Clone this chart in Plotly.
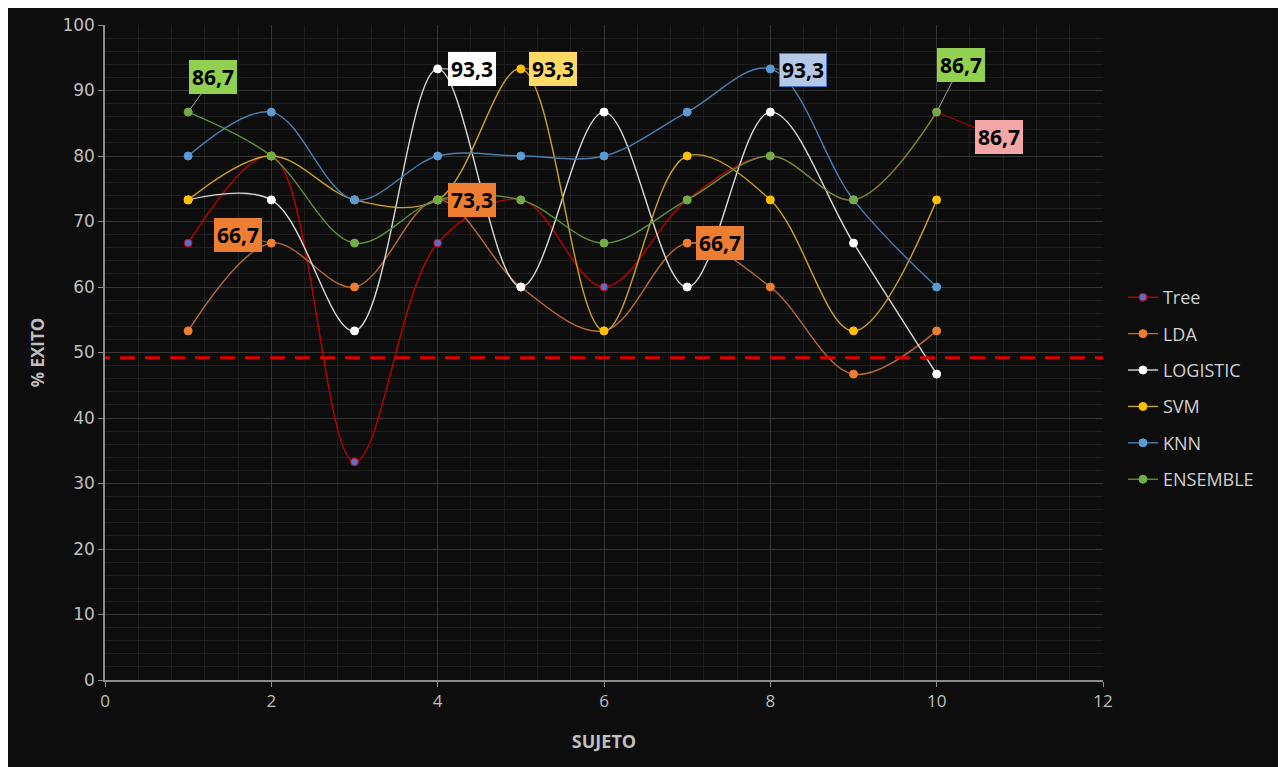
import plotly.graph_objects as go

sujetos = [1, 2, 3, 4, 5, 6, 7, 8, 9, 10]
tree = [66.7, 80.0, 33.3, 66.7, 73.3, 60.0, 73.3, 80.0, 73.3, 86.7]
lda = [53.3, 66.7, 60.0, 73.3, 60.0, 53.3, 66.7, 60.0, 46.7, 53.3]
logistic = [73.3, 73.3, 53.3, 93.3, 60.0, 86.7, 60.0, 86.7, 66.7, 46.7]
svm = [73.3, 80.0, 73.3, 73.3, 93.3, 53.3, 80.0, 73.3, 53.3, 73.3]
knn = [80.0, 86.7, 73.3, 80.0, 80.0, 80.0, 86.7, 93.3, 73.3, 60.0]
ensemble = [86.7, 80.0, 66.7, 73.3, 73.3, 66.7, 73.3, 80.0, 73.3, 86.7]
umbral = 49.2

series = [
    ("Tree", tree, "#c00000", "#5b6fc7"),
    ("LDA", lda, "#b8693a", "#ed7d31"),
    ("LOGISTIC", logistic, "#d9d9d9", "#ffffff"),
    ("SVM", svm, "#c9a227", "#ffc000"),
    ("KNN", knn, "#4a7eb0", "#5b9bd5"),
    ("ENSEMBLE", ensemble, "#5f8f3a", "#70ad47"),
]

BG = "#0d0d0d"
fig = go.Figure()
for i, (name, vals, lc, mc) in enumerate(series):
    fig.add_trace(go.Scatter(
        x=sujetos, y=vals, name=name, mode="lines+markers",
        line=dict(color=lc, width=1.4, shape="spline", smoothing=1.0),
        marker=dict(color=mc, size=8, line=dict(color=lc if name == "Tree" else mc, width=1)),
        legendgroup=name,
    ))

# labels: (x, y, text, bg, ax, ay, arrowcolor, border)
labels = [
    (1, ensemble[0], "86,7", "#92d050", 25, -35, "#a0a0a0", "#92d050"),
    (2, lda[1], "66,7", "#ed7d31", -33, -8, "#b8693a", "#ed7d31"),
    (4, logistic[3], "93,3", "#ffffff", 34, 0, "#d9d9d9", "#ffffff"),
    (4, lda[3], "73,3", "#ed7d31", 34, 0, "#b8693a", "#ed7d31"),
    (5, svm[4], "93,3", "#ffd966", 32, 0, "#c9a227", "#ffd966"),
    (7, lda[6], "66,7", "#ed7d31", 33, 0, "#b8693a", "#ed7d31"),
    (8, knn[7], "93,3", "#b4c7e7", 33, 1, "#4a7eb0", "#4472c4"),
    (10, ensemble[9], "86,7", "#92d050", 24, -47, "#a0a0a0", "#92d050"),
    (10, tree[9], "86,7", "#f4a6a6", 62, 25, "#c00000", "#f4a6a6"),
]
for (x, y, t, bg, ax, ay, ac, bc) in labels:
    fig.add_annotation(
        x=x, y=y, text="<b>" + t + "</b>", showarrow=True, ax=ax, ay=ay,
        arrowhead=0, arrowwidth=1, arrowcolor=ac, standoff=4,
        bgcolor=bg, bordercolor=bc, borderwidth=1, borderpad=2,
        font=dict(family="Open Sans", size=21, color="#000000"),
    )

# threshold dashed line
fig.add_shape(type="line", xref="x", yref="y", x0=-0.12, x1=12, y0=umbral, y1=umbral,
              line=dict(color="#e00000", width=3, dash="15px,10px"), layer="above")

grid_c = "#363636"
minor_c = "#1e1e1e"
fig.update_layout(
    width=1286, height=767,
    margin=dict(l=97, r=191, t=17, b=95),
    paper_bgcolor=BG, plot_bgcolor=BG,
    showlegend=True,
    legend=dict(x=1.02, y=0.445, xanchor="left", yanchor="middle",
                font=dict(family="Open Sans", size=18, color="#d0d0d0"),
                bgcolor="rgba(0,0,0,0)", tracegroupgap=10, itemwidth=30),
    xaxis=dict(range=[0, 12], tick0=0, dtick=2, showgrid=True, gridcolor=grid_c, gridwidth=1,
               minor=dict(dtick=0.4, showgrid=True, gridcolor=minor_c),
               showline=True, linecolor="#8c8c8c", linewidth=1.5, ticks="outside", ticklen=5,
               tickcolor="#8c8c8c", zeroline=False, automargin=False,
               tickfont=dict(family="Liberation Sans Narrow, Open Sans", size=17, color="#bfbfbf"),
               title=dict(text="<b>SUJETO</b>", font=dict(family="Liberation Sans Narrow, Open Sans", size=18, color="#bfbfbf"), standoff=24)),
    yaxis=dict(range=[0, 100], tick0=0, dtick=10, showgrid=True, gridcolor=grid_c, gridwidth=1,
               minor=dict(dtick=2, showgrid=True, gridcolor=minor_c),
               showline=True, linecolor="#8c8c8c", linewidth=1.5, ticks="outside", ticklen=5,
               tickcolor="#8c8c8c", zeroline=False, automargin=False,
               tickfont=dict(family="DejaVu Sans", size=17, color="#bfbfbf"),
               title=dict(text="<b>% EXITO</b>", font=dict(family="Liberation Sans Narrow, Open Sans", size=17, color="#bfbfbf"), standoff=13)),
)

fig.write_html("out.html")
